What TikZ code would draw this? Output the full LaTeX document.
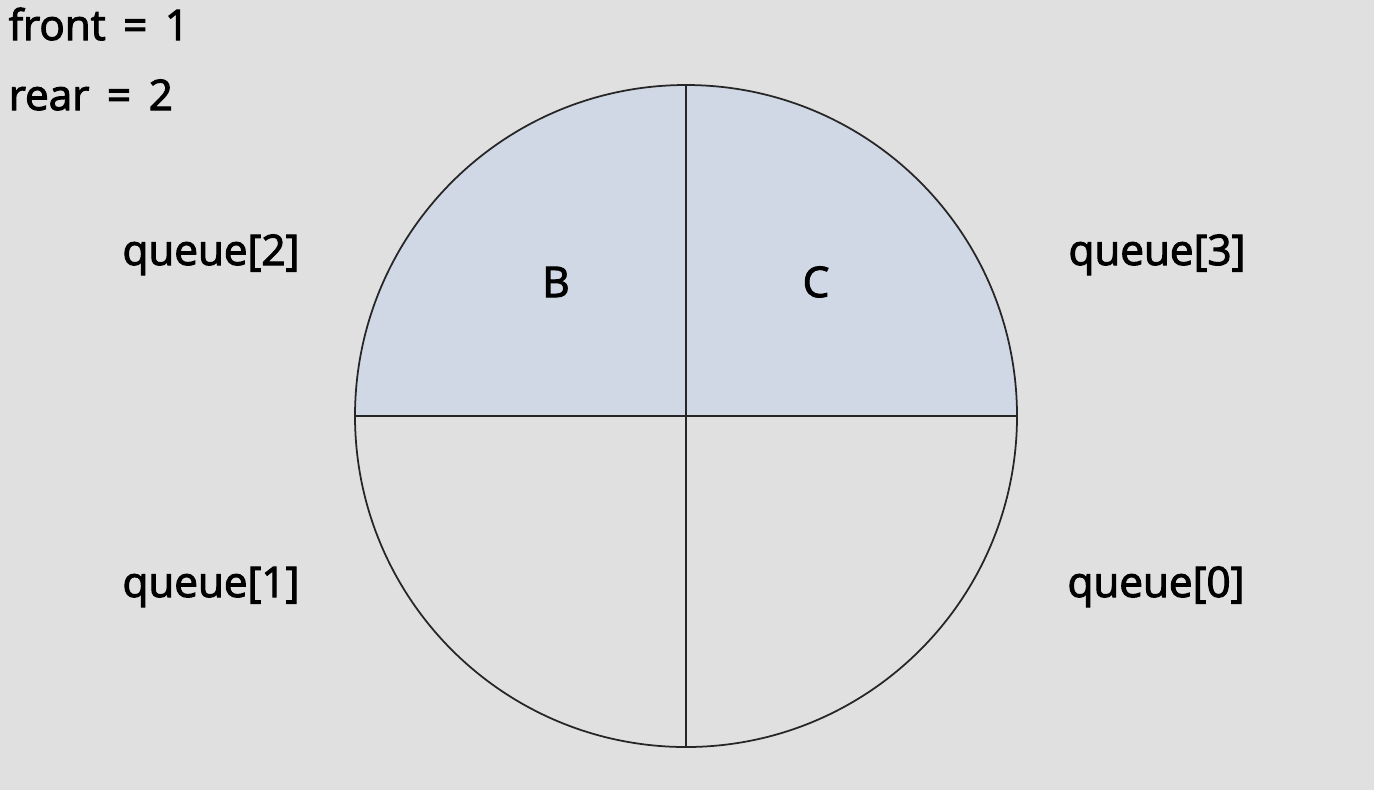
\documentclass[tikz,border=0pt]{standalone}
\usepackage{fontspec}
\setmainfont{Open Sans}
\newcommand{\heavytxt}[1]{\special{pdf:literal direct 2 Tr 0.3 w}#1\special{pdf:literal direct 0 Tr}}
\definecolor{bg}{HTML}{E0E0E0}
\definecolor{fillb}{HTML}{D1D8E5}
\begin{document}
\begin{tikzpicture}[x=0.01cm,y=-0.01cm,
  lbl/.style={font=\fontsize{12}{14}\selectfont, inner sep=0pt, text=black},
  seg/.style={draw=black!85, line width=0.5pt}]
\useasboundingbox[fill=bg] (0,0) rectangle (1374,790);
\coordinate (c) at (686,416);
\coordinate (l) at (355,416);
\coordinate (r) at (1017,416);
\coordinate (t) at (686,85);
\coordinate (b) at (686,747);
\fill[fillb] (l) arc[start angle=180, end angle=360, radius=331] -- cycle;
\draw[seg] (c) circle[radius=331];
\draw[seg] (l) -- (r);
\draw[seg] (t) -- (b);
\node[lbl, anchor=base west] (front) at (8,40) {\heavytxt{front\hspace{5pt}=\hspace{5pt}1}};
\node[lbl, anchor=base west] (rear) at (8,110) {\heavytxt{rear\hspace{5pt}=\hspace{5pt}2}};
\node[lbl, anchor=base] (q2) at (211,265) {\heavytxt{queue[2]}};
\node[lbl, anchor=base] (q3) at (1157,265) {\heavytxt{queue[3]}};
\node[lbl, anchor=base] (q1) at (211,597) {\heavytxt{queue[1]}};
\node[lbl, anchor=base] (q0) at (1156,597) {\heavytxt{queue[0]}};
\node[lbl, anchor=base] (B) at (556,297) {\heavytxt{B}};
\node[lbl, anchor=base] (C) at (816,297) {\heavytxt{C}};
\end{tikzpicture}
\end{document}
